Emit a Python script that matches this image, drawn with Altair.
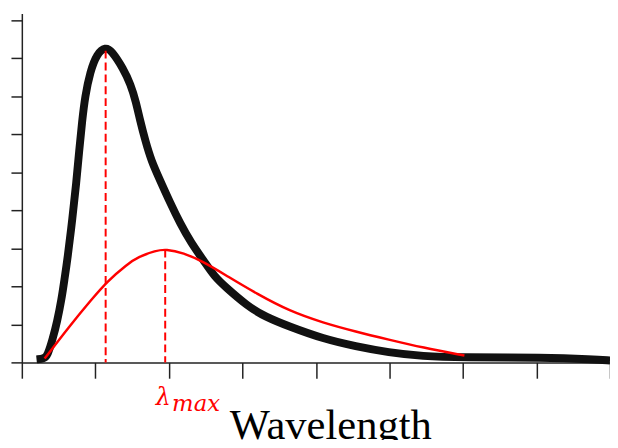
import altair as alt
import pandas as pd

# Thick black curve (wavelength, intensity)
black_x = [0.20, 0.30, 0.35, 0.42, 0.48, 0.54, 0.58, 0.62, 0.69, 0.74, 0.78, 0.82, 0.86, 0.93,
           1.02, 1.14, 1.22, 1.38, 1.48, 1.55, 1.61, 1.68, 1.76, 1.88, 2.02, 2.15, 2.30, 2.49,
           2.62, 2.76, 3.07, 3.31, 3.64, 4.10, 4.54, 4.99, 5.45, 5.98, 7.10, 7.77, 8.00]
black_y = [0.08, 0.10, 0.18, 0.62, 1.07, 1.66, 2.19, 2.71, 3.82, 4.71, 5.57, 6.35, 7.00, 7.65,
           8.12, 8.30, 8.20, 7.73, 7.31, 6.87, 6.35, 5.83, 5.31, 4.79, 4.19, 3.67, 3.15, 2.63,
           2.26, 2.00, 1.48, 1.20, 0.94, 0.62, 0.42, 0.26, 0.16, 0.13, 0.13, 0.08, 0.05]

# Thin red curve
red_x = [0.31, 0.65, 0.95, 1.16, 1.43, 1.59, 1.82, 1.96, 2.19, 2.49, 2.80, 3.20, 3.64, 4.10,
         4.54, 4.99, 5.45, 6.02]
red_y = [0.10, 0.96, 1.66, 2.13, 2.58, 2.78, 2.94, 2.98, 2.89, 2.63, 2.26, 1.80, 1.35, 1.04,
         0.81, 0.60, 0.39, 0.18]

# Dashed peak markers
peak_x = [1.14, 1.95]
peak_top = [8.2, 2.97]

x_ticks = [0, 1, 2, 3, 4, 5, 6, 7, 8]
y_ticks = [0, 1, 2, 3, 4, 5, 6, 7, 8, 9]

black_df = pd.DataFrame({"x": black_x, "y": black_y})
red_df = pd.DataFrame({"x": red_x, "y": red_y})
peak_df = pd.DataFrame({"x": peak_x, "y": peak_top, "y0": [0, 0]})
lab_df = pd.DataFrame({"x": [peak_x[1]], "y": [0]})

xs = alt.Scale(domain=[0, 8], nice=False, zero=False)
ys = alt.Scale(domain=[0, 9.18], nice=False, zero=False)

xaxis = alt.Axis(values=x_ticks, labels=False, grid=False, tickSize=16, tickWidth=1.5,
                 domainWidth=1.5, domainColor="#222", tickColor="#222",
                 title="Wavelength", titleFont="Liberation Serif", titleFontSize=43,
                 titleFontWeight="normal", titleColor="black", titleX=312, titleY=77,
                 titleBaseline="alphabetic", titleAlign="center")
yaxis = alt.Axis(values=y_ticks, labels=False, grid=False, tickSize=11, tickWidth=1.5,
                 domainWidth=1.5, domainColor="#222", tickColor="#222", title=None,
                 tickCount=10)

X = alt.X("x:Q", scale=xs, axis=xaxis)
Y = alt.Y("y:Q", scale=ys, axis=yaxis)

black = alt.Chart(black_df).mark_line(color="#111", strokeWidth=8, interpolate="basis",
                                      strokeJoin="round").encode(x=X, y=Y, order="x:Q")
red = alt.Chart(red_df).mark_line(color="#ff0000", strokeWidth=2.5, interpolate="basis").encode(
    x=X, y=Y, order="x:Q")
dashes = alt.Chart(peak_df).mark_rule(color="#ff0000", strokeWidth=2, strokeDash=[8, 4]).encode(
    x=X, y=Y, y2="y0:Q")
lam = alt.Chart(lab_df).mark_text(text="λ", font="DejaVu Serif", fontStyle="italic", fontSize=24,
                                  color="#ff0000", align="center", baseline="alphabetic",
                                  dx=-2, dy=43).encode(x=X, y=Y)
sub = alt.Chart(lab_df).mark_text(text="max", font="DejaVu Serif", fontStyle="italic", fontSize=23,
                                  color="#ff0000", align="left", baseline="alphabetic",
                                  dx=7, dy=49).encode(x=X, y=Y)

chart = alt.layer(black, red, dashes, lam, sub).properties(
    width=595, height=353,
    autosize=alt.AutoSizeParams(type="none"),
    padding={"left": 14, "top": 3, "right": 0, "bottom": 76},
).configure_view(stroke="transparent")

chart.save("out.html", embed_options={"renderer": "svg", "actions": False})
